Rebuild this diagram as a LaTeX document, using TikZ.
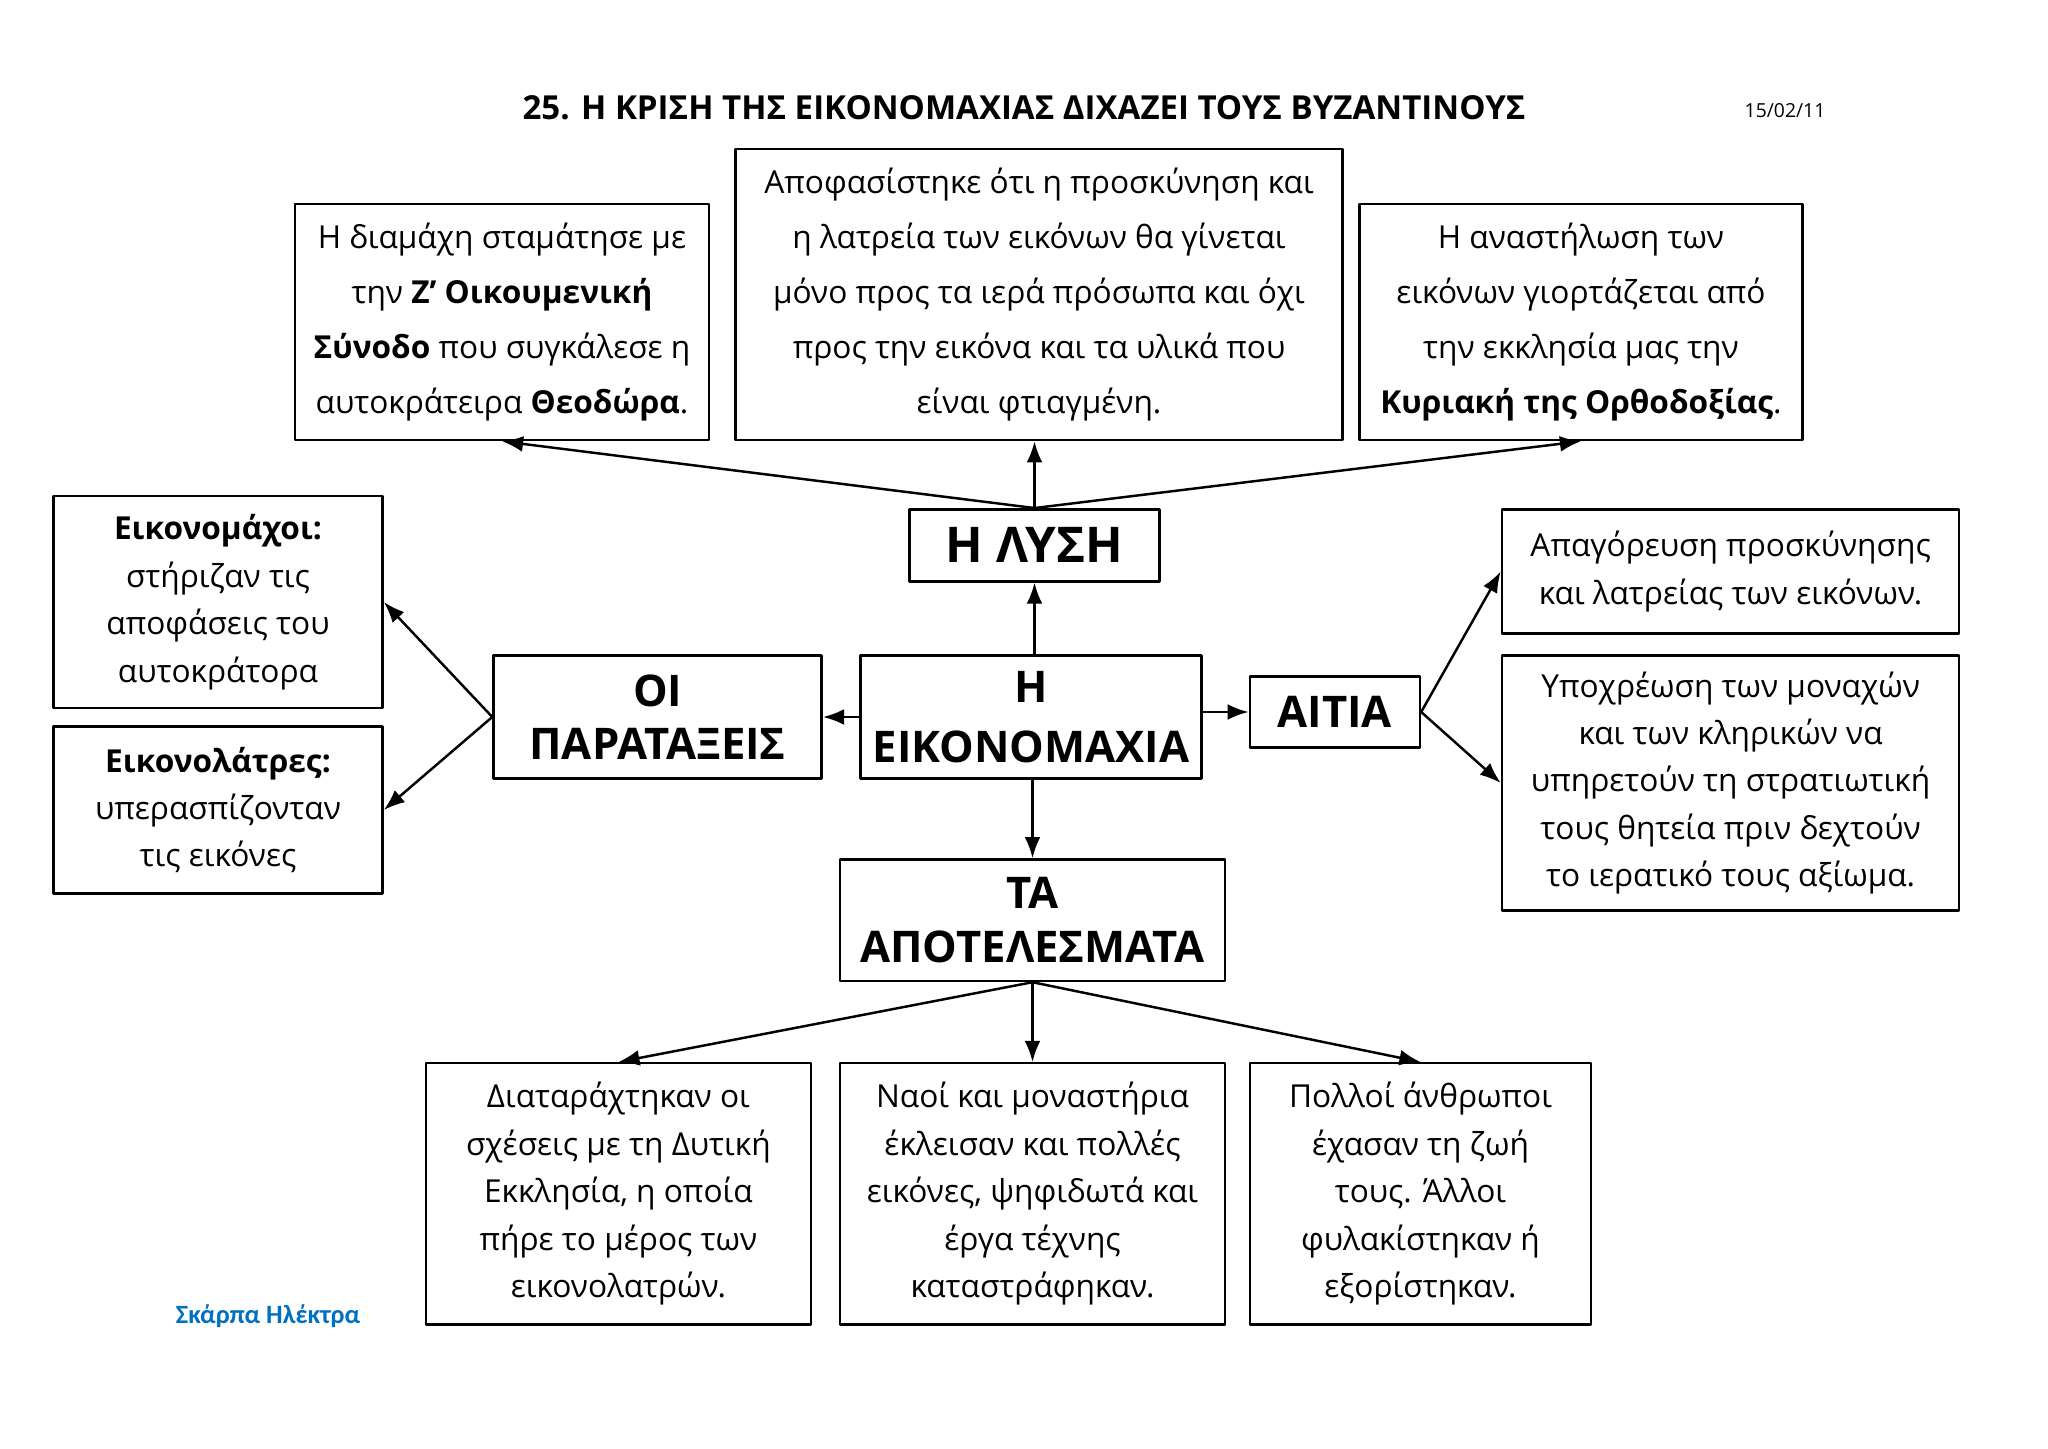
\documentclass[tikz,border=0pt]{standalone}
\usepackage{fontspec}
\setmainfont{Open Sans}
\newfontfamily\signfont{Carlito}
\usetikzlibrary{arrows.meta}
\definecolor{signblue}{RGB}{0,112,192}
\tikzset{
  box/.style={draw,line width=.7pt,align=center,inner sep=0pt},
  toptxt/.style={font=\fontsize{9}{15.6}\selectfont},
  txt/.style={font=\fontsize{9}{13.5}\selectfont},
  head/.style={font=\fontsize{12.4}{15.2}\selectfont\bfseries},
}
\begin{document}
\begin{tikzpicture}[x=.01cm,y=-.01cm,line join=round,line cap=round,>={Latex[length=6pt,width=4.5pt]},line width=.7pt]
\useasboundingbox (0,0) rectangle (2048,1449);
\path (1024,108) node[font=\fontsize{9.4}{11}\selectfont\bfseries](title){25. Η ΚΡΙΣΗ ΤΗΣ ΕΙΚΟΝΟΜΑΧΙΑΣ ΔΙΧΑΖΕΙ ΤΟΥΣ ΒΥΖΑΝΤΙΝΟΥΣ}
      (1785,111) node[font=\fontsize{5.5}{7}\selectfont](date){15/02/11}
      (268,1316) node[font=\signfont\fontsize{7.5}{9}\selectfont\bfseries,text=signblue](sign){Σκάρπα Ηλέκτρα};
% the three boxes of the solution
\foreach \x/\y/\w/\h/\n/\g in {502/322/4.14/2.36/A/{Η διαμάχη σταμάτησε με\\την \textbf{Ζ’ Οικουμενική}\\\textbf{Σύνοδο} που συγκάλεσε η\\αυτοκράτειρα \textbf{Θεοδώρα}.},
  1039/294.5/6.07/2.91/B/{Αποφασίστηκε ότι η προσκύνηση και\\η λατρεία των εικόνων θα γίνεται\\μόνο προς τα ιερά πρόσωπα και όχι\\προς την εικόνα και τα υλικά που\\είναι φτιαγμένη.},
  1581/322/4.43/2.36/C/{Η αναστήλωση των\\εικόνων γιορτάζεται από\\την εκκλησία μας την\\\textbf{Κυριακή της Ορθοδοξίας}.}}
  \path(\x,\y)node[box,toptxt,minimum width=\w cm,minimum height=\h cm](\n){\g};
% the other text boxes
\foreach \x/\y/\w/\h/\n/\g in {218/602/3.29/2.12/mach/{\textbf{Εικονομάχοι:}\\στήριζαν τις\\αποφάσεις του\\αυτοκράτορα},
  218/810/3.29/1.67/lat/{\textbf{Εικονολάτρες:}\\υπερασπίζονταν\\τις εικόνες},
  1730.6/571.4/4.57/1.24/r1/{Απαγόρευση προσκύνησης\\και λατρείας των εικόνων.},
  1730.6/783/4.57/2.55/r2/{Υποχρέωση των μοναχών\\και των κληρικών να\\υπηρετούν τη στρατιωτική\\τους θητεία πριν δεχτούν\\το ιερατικό τους αξίωμα.},
  618.4/1193.8/3.85/2.61/d1/{Διαταράχτηκαν οι\\σχέσεις με τη Δυτική\\Εκκλησία, η οποία\\πήρε το μέρος των\\εικονολατρών.},
  1032.5/1193.8/3.85/2.61/d2/{Ναοί και μοναστήρια\\έκλεισαν και πολλές\\εικόνες, ψηφιδωτά και\\έργα τέχνης\\καταστράφηκαν.},
  1420.5/1193.8/3.41/2.61/d3/{Πολλοί άνθρωποι\\έχασαν τη ζωή\\τους. Άλλοι\\φυλακίστηκαν ή\\εξορίστηκαν.}}
  \path(\x,\y)node[box,txt,minimum width=\w cm,minimum height=\h cm](\n){\g};
% headings
\path (1034.5,545.3)node[box,font=\fontsize{14}{17}\selectfont\bfseries,minimum width=2.5cm,minimum height=.72cm](lysi){Η ΛΥΣΗ}
      (657.6,717)node[box,head,minimum width=3.28cm,minimum height=1.23cm](par){ΟΙ\\ΠΑΡΑΤΑΞΕΙΣ}
      (1030.9,717)node[box,head,minimum width=3.41cm,minimum height=1.23cm](eik){Η\\[2pt]ΕΙΚΟΝΟΜΑΧΙΑ}
      (1334.9,712)node[box,head,minimum width=1.7cm,minimum height=.705cm](aitia){ΑΙΤΙΑ}
      (1032.5,920.2)node[box,head,minimum width=3.85cm,minimum height=1.215cm](apo){ΤΑ\\ΑΠΟΤΕΛΕΣΜΑΤΑ};
\foreach \x/\y in {lysi.north/A.south,lysi.north/lysi.north|-B.south,lysi.north/C.south,eik.north-|lysi.south/lysi.south,eik.west/par.east,eik.east|-aitia.west/aitia.west,eik.south-|apo.north/apo.north,par.west/mach.east,par.west/lat.east,aitia.east/r1.west,aitia.east/r2.west,apo.south/d1.north,apo.south/d2.north,apo.south/d3.north}\draw[->](\x)--(\y);
\end{tikzpicture}
\end{document}
